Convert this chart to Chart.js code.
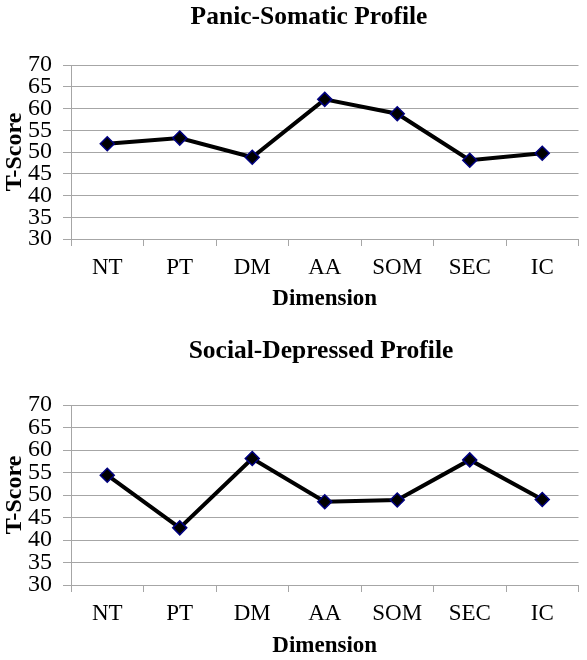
<!DOCTYPE html>
<html>
<head>
<meta charset="utf-8">
<script src="https://cdn.jsdelivr.net/npm/chart.js@4"></script>
<style>
  html, body { margin: 0; padding: 0; background: #fff; }
  .box { position: relative; width: 587px; height: 330px; }
</style>
</head>
<body>
<div class="box"><canvas id="chartPanic"></canvas></div>
<div class="box"><canvas id="chartSocial"></canvas></div>
<script>
// profile data
const dimensions = ['NT', 'PT', 'DM', 'AA', 'SOM', 'SEC', 'IC'];
const panicSomatic = [51.9, 53.2, 48.8, 62.1, 58.8, 48.1, 49.7];
const socialDepressed = [54.4, 42.7, 58.1, 48.5, 48.9, 57.8, 49.0];
const yTicks = [30, 35, 40, 45, 50, 55, 60, 65, 70];

const serif = "'Liberation Serif', 'Times New Roman', serif";
const gridGray = '#a6a6a6';

// chart title drawn by hand so it can sit where the original had it
const plotTitle = {
  id: 'plotTitle',
  afterDraw(chart, args, opts) {
    const { ctx } = chart;
    ctx.save();
    ctx.font = `bold 25.5px ${serif}`;
    ctx.fillStyle = '#000';
    ctx.textAlign = 'center';
    ctx.textBaseline = 'middle';
    ctx.fillText(opts.text, opts.x, opts.y);
    ctx.restore();
  },
};

function makeProfile(canvasId, title, values, pad) {
  return new Chart(document.getElementById(canvasId), {
    type: 'line',
    data: {
      labels: dimensions,
      datasets: [
        {
          data: values,
          borderColor: '#000',
          borderWidth: 4,
          pointStyle: 'rectRot',
          pointRadius: 7,
          pointBackgroundColor: '#000',
          pointBorderColor: '#000080',
          pointBorderWidth: 1.5,
          tension: 0,
        },
      ],
    },
    plugins: [plotTitle],
    options: {
      responsive: true,
      maintainAspectRatio: false,
      animation: false,
      layout: { padding: { top: pad.top, right: 6, bottom: pad.bottom, left: 0 } },
      plugins: {
        legend: { display: false },
        tooltip: { enabled: false },
        title: { display: false },
        plotTitle: { text: title, x: pad.titleX, y: pad.titleY },
      },
      scales: {
        x: {
          offset: true,
          afterFit: (scale) => {
            scale.height = pad.xHeight;
          },
          grid: {
            offset: true,
            drawOnChartArea: false,
            drawTicks: true,
            tickLength: 7,
            color: gridGray,
          },
          border: { color: gridGray, width: 1 },
          ticks: { color: '#000', font: { family: serif, size: 23 }, padding: 8, maxRotation: 0 },
          title: {
            display: true,
            text: 'Dimension',
            color: '#000',
            font: { family: serif, size: 23, weight: 'bold' },
            padding: { top: 0, bottom: 0 },
          },
        },
        y: {
          min: 30,
          max: 70,
          afterBuildTicks: (scale) => {
            scale.ticks = yTicks.map((v) => ({ value: v }));
          },
          afterFit: (scale) => {
            scale.width = 71;
          },
          grid: { color: gridGray, tickLength: 8 },
          border: { color: gridGray, width: 1 },
          ticks: { color: '#000', font: { family: serif, size: 24 }, padding: 11, autoSkip: false },
          title: {
            display: true,
            text: 'T-Score',
            color: '#000',
            font: { family: serif, size: 24, weight: 'bold' },
            padding: { top: 0, bottom: 0 },
          },
        },
      },
    },
  });
}

makeProfile('chartPanic', 'Panic-Somatic Profile', panicSomatic, {
  top: 65, bottom: 17, xHeight: 74, titleX: 309, titleY: 17,
});
makeProfile('chartSocial', 'Social-Depressed Profile', socialDepressed, {
  top: 75, bottom: 0, xHeight: 75, titleX: 321, titleY: 21,
});
</script>
</body>
</html>
